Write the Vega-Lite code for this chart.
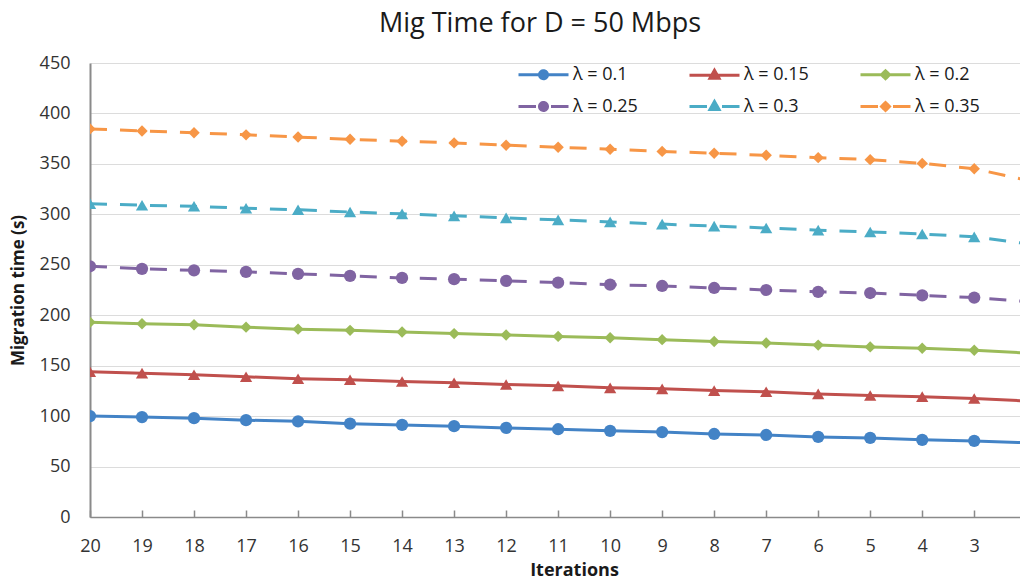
{
  "$schema": "https://vega.github.io/schema/vega-lite/v6.json",
  "width": 930,
  "height": 454,
  "autosize": {"type": "none"},
  "padding": {"left": 90, "top": 63, "right": 0, "bottom": 67},
  "background": "white",
  "title": {"text": "Mig Time for D = 50 Mbps", "font": "Open Sans", "fontSize": 27, "fontWeight": "normal", "color": "#1a1a1a", "anchor": "middle", "frame": "group", "dx": -15, "offset": 16},
  "config": {
    "view": {"stroke": null},
    "font": "Open Sans"
  },
  "data": {"values": [
    {"iter": 20, "series": "λ = 0.1", "t": 100}, {"iter": 19, "series": "λ = 0.1", "t": 99}, {"iter": 18, "series": "λ = 0.1", "t": 98}, {"iter": 17, "series": "λ = 0.1", "t": 96}, {"iter": 16, "series": "λ = 0.1", "t": 94.8}, {"iter": 15, "series": "λ = 0.1", "t": 92.5}, {"iter": 14, "series": "λ = 0.1", "t": 91.3}, {"iter": 13, "series": "λ = 0.1", "t": 90}, {"iter": 12, "series": "λ = 0.1", "t": 88.3}, {"iter": 11, "series": "λ = 0.1", "t": 87}, {"iter": 10, "series": "λ = 0.1", "t": 85.4}, {"iter": 9, "series": "λ = 0.1", "t": 84.2}, {"iter": 8, "series": "λ = 0.1", "t": 82.3}, {"iter": 7, "series": "λ = 0.1", "t": 81.3}, {"iter": 6, "series": "λ = 0.1", "t": 79.4}, {"iter": 5, "series": "λ = 0.1", "t": 78.4}, {"iter": 4, "series": "λ = 0.1", "t": 76.5}, {"iter": 3, "series": "λ = 0.1", "t": 75.4}, {"iter": 2, "series": "λ = 0.1", "t": 73.5},
    {"iter": 20, "series": "λ = 0.15", "t": 144}, {"iter": 19, "series": "λ = 0.15", "t": 142.6}, {"iter": 18, "series": "λ = 0.15", "t": 141}, {"iter": 17, "series": "λ = 0.15", "t": 139}, {"iter": 16, "series": "λ = 0.15", "t": 137}, {"iter": 15, "series": "λ = 0.15", "t": 136}, {"iter": 14, "series": "λ = 0.15", "t": 134.3}, {"iter": 13, "series": "λ = 0.15", "t": 133}, {"iter": 12, "series": "λ = 0.15", "t": 131.3}, {"iter": 11, "series": "λ = 0.15", "t": 130}, {"iter": 10, "series": "λ = 0.15", "t": 128}, {"iter": 9, "series": "λ = 0.15", "t": 127}, {"iter": 8, "series": "λ = 0.15", "t": 125.3}, {"iter": 7, "series": "λ = 0.15", "t": 124.2}, {"iter": 6, "series": "λ = 0.15", "t": 122}, {"iter": 5, "series": "λ = 0.15", "t": 120.4}, {"iter": 4, "series": "λ = 0.15", "t": 119.3}, {"iter": 3, "series": "λ = 0.15", "t": 117.4}, {"iter": 2, "series": "λ = 0.15", "t": 115},
    {"iter": 20, "series": "λ = 0.2", "t": 193}, {"iter": 19, "series": "λ = 0.2", "t": 191.5}, {"iter": 18, "series": "λ = 0.2", "t": 190.5}, {"iter": 17, "series": "λ = 0.2", "t": 188.2}, {"iter": 16, "series": "λ = 0.2", "t": 186.2}, {"iter": 15, "series": "λ = 0.2", "t": 185}, {"iter": 14, "series": "λ = 0.2", "t": 183.3}, {"iter": 13, "series": "λ = 0.2", "t": 181.8}, {"iter": 12, "series": "λ = 0.2", "t": 180.4}, {"iter": 11, "series": "λ = 0.2", "t": 179}, {"iter": 10, "series": "λ = 0.2", "t": 177.7}, {"iter": 9, "series": "λ = 0.2", "t": 175.8}, {"iter": 8, "series": "λ = 0.2", "t": 174}, {"iter": 7, "series": "λ = 0.2", "t": 172.5}, {"iter": 6, "series": "λ = 0.2", "t": 170.4}, {"iter": 5, "series": "λ = 0.2", "t": 168.6}, {"iter": 4, "series": "λ = 0.2", "t": 167.2}, {"iter": 3, "series": "λ = 0.2", "t": 165.3}, {"iter": 2, "series": "λ = 0.2", "t": 162.5},
    {"iter": 20, "series": "λ = 0.25", "t": 248.5}, {"iter": 19, "series": "λ = 0.25", "t": 246}, {"iter": 18, "series": "λ = 0.25", "t": 244.5}, {"iter": 17, "series": "λ = 0.25", "t": 243}, {"iter": 16, "series": "λ = 0.25", "t": 241}, {"iter": 15, "series": "λ = 0.25", "t": 239}, {"iter": 14, "series": "λ = 0.25", "t": 237}, {"iter": 13, "series": "λ = 0.25", "t": 235.7}, {"iter": 12, "series": "λ = 0.25", "t": 234}, {"iter": 11, "series": "λ = 0.25", "t": 232.3}, {"iter": 10, "series": "λ = 0.25", "t": 230.3}, {"iter": 9, "series": "λ = 0.25", "t": 229}, {"iter": 8, "series": "λ = 0.25", "t": 227}, {"iter": 7, "series": "λ = 0.25", "t": 225}, {"iter": 6, "series": "λ = 0.25", "t": 223.2}, {"iter": 5, "series": "λ = 0.25", "t": 222}, {"iter": 4, "series": "λ = 0.25", "t": 219.7}, {"iter": 3, "series": "λ = 0.25", "t": 217.5}, {"iter": 2, "series": "λ = 0.25", "t": 213.5},
    {"iter": 20, "series": "λ = 0.3", "t": 310.6}, {"iter": 19, "series": "λ = 0.3", "t": 309}, {"iter": 18, "series": "λ = 0.3", "t": 308}, {"iter": 17, "series": "λ = 0.3", "t": 306}, {"iter": 16, "series": "λ = 0.3", "t": 304.5}, {"iter": 15, "series": "λ = 0.3", "t": 302.3}, {"iter": 14, "series": "λ = 0.3", "t": 300.5}, {"iter": 13, "series": "λ = 0.3", "t": 298.5}, {"iter": 12, "series": "λ = 0.3", "t": 296.5}, {"iter": 11, "series": "λ = 0.3", "t": 294.5}, {"iter": 10, "series": "λ = 0.3", "t": 292.5}, {"iter": 9, "series": "λ = 0.3", "t": 290.3}, {"iter": 8, "series": "λ = 0.3", "t": 288.3}, {"iter": 7, "series": "λ = 0.3", "t": 286.5}, {"iter": 6, "series": "λ = 0.3", "t": 284.3}, {"iter": 5, "series": "λ = 0.3", "t": 282.5}, {"iter": 4, "series": "λ = 0.3", "t": 280.5}, {"iter": 3, "series": "λ = 0.3", "t": 277.7}, {"iter": 2, "series": "λ = 0.3", "t": 271},
    {"iter": 20, "series": "λ = 0.35", "t": 384.7}, {"iter": 19, "series": "λ = 0.35", "t": 382.6}, {"iter": 18, "series": "λ = 0.35", "t": 380.8}, {"iter": 17, "series": "λ = 0.35", "t": 378.8}, {"iter": 16, "series": "λ = 0.35", "t": 376.6}, {"iter": 15, "series": "λ = 0.35", "t": 374.4}, {"iter": 14, "series": "λ = 0.35", "t": 372.5}, {"iter": 13, "series": "λ = 0.35", "t": 370.8}, {"iter": 12, "series": "λ = 0.35", "t": 368.5}, {"iter": 11, "series": "λ = 0.35", "t": 366.5}, {"iter": 10, "series": "λ = 0.35", "t": 364.5}, {"iter": 9, "series": "λ = 0.35", "t": 362.4}, {"iter": 8, "series": "λ = 0.35", "t": 360.6}, {"iter": 7, "series": "λ = 0.35", "t": 358.5}, {"iter": 6, "series": "λ = 0.35", "t": 356.2}, {"iter": 5, "series": "λ = 0.35", "t": 354.2}, {"iter": 4, "series": "λ = 0.35", "t": 350.5}, {"iter": 3, "series": "λ = 0.35", "t": 345.2}, {"iter": 2, "series": "λ = 0.35", "t": 334}
  ]},
  "encoding": {
    "x": {
      "field": "iter", "type": "quantitative",
      "scale": {"domain": [20, 2.12], "nice": false, "zero": false},
      "axis": {
        "title": "Iterations", "titleFont": "Open Sans", "titleFontSize": 18, "titleFontWeight": "bold", "titleColor": "#1a1a1a",
        "titleX": 484, "titleY": 53, "titleBaseline": "middle", "titleAlign": "center",
        "values": [20,19,18,17,16,15,14,13,12,11,10,9,8,7,6,5,4,3],
        "format": "d", "labelFont": "Open Sans", "labelFontSize": 18, "labelColor": "#333", "labelPadding": 27,
        "labelFlush": false, "labelOverlap": false,
        "grid": false, "domainColor": "#8a8a8a", "domainWidth": 1.5,
        "ticks": true, "tickSize": -7, "tickColor": "#8a8a8a", "tickWidth": 1.5
      }
    },
    "y": {
      "field": "t", "type": "quantitative",
      "scale": {"domain": [0, 450], "nice": false},
      "axis": {
        "title": "Migration time (s)", "titleFont": "Open Sans", "titleFontSize": 17, "titleFontWeight": "bold", "titleColor": "#1a1a1a",
        "titleX": -72, "titleY": 227, "titleAngle": -90, "titleBaseline": "middle", "titleAlign": "center",
        "values": [0,50,100,150,200,250,300,350,400,450],
        "labelFont": "Open Sans", "labelFontSize": 18, "labelColor": "#333", "labelPadding": 20, "labelFlush": false,
        "ticks": false, "grid": true, "gridColor": "#dcdcdc", "gridWidth": 1,
        "domainColor": "#8a8a8a", "domainWidth": 2
      }
    },
    "color": {
      "field": "series", "type": "nominal",
      "scale": {
        "domain": ["λ = 0.1", "λ = 0.15", "λ = 0.2", "λ = 0.25", "λ = 0.3", "λ = 0.35"],
        "range": ["#4383c6", "#c0504d", "#9bbb59", "#8064a2", "#4bacc6", "#f79646"]
      },
      "legend": {
        "title": null, "orient": "none", "legendX": 427, "legendY": 0, "direction": "horizontal", "columns": 3,
        "gridAlign": "all", "columnPadding": 45, "rowPadding": 10, "padding": 0,
        "symbolSize": 400, "symbolStrokeWidth": 3, "symbolOpacity": 1, "labelOffset": 33,
        "labelFont": "Open Sans", "labelFontSize": 18, "labelColor": "#1a1a1a", "labelLimit": 200,
        "encode": {
          "symbols": {
            "update": {
              "shape": {"signal": "datum.value === 'λ = 0.1' ? 'M-1,0H4M1.9,0A0.4,0.4,0,1,1,1.1,0A0.4,0.4,0,1,1,1.9,0Z' : datum.value === 'λ = 0.25' ? 'M-1,0H0.75M2.25,0H4M1.9,0A0.4,0.4,0,1,1,1.1,0A0.4,0.4,0,1,1,1.9,0Z' : datum.value === 'λ = 0.15' ? 'M-1,0H4M1.5,-0.5L1.95,0.3L1.05,0.3Z' : datum.value === 'λ = 0.3' ? 'M-1,0H0.75M2.25,0H4M1.5,-0.5L1.95,0.3L1.05,0.3Z' : datum.value === 'λ = 0.2' ? 'M-1,0H4M1.5,-0.4L1.9,0L1.5,0.4L1.1,0Z' : 'M-1,0H0.75M2.25,0H4M1.5,-0.4L1.9,0L1.5,0.4L1.1,0Z'"},
              "fill": {"scale": "color", "field": "value"},
              "stroke": {"scale": "color", "field": "value"},
              "strokeDash": {"value": [1, 0]},
              "strokeWidth": {"value": 3},
              "opacity": {"value": 1}
            }
          }
        }
      }
    }
  },
  "layer": [
    {
      "transform": [{"filter": {"field": "series", "oneOf": ["λ = 0.1", "λ = 0.15", "λ = 0.2"]}}],
      "mark": {"type": "line", "strokeWidth": 3, "clip": true}
    },
    {
      "transform": [{"filter": {"field": "series", "oneOf": ["λ = 0.25", "λ = 0.3", "λ = 0.35"]}}],
      "mark": {"type": "line", "strokeWidth": 3, "strokeDash": [17, 13], "clip": true}
    },
    {
      "transform": [{"filter": {"field": "series", "oneOf": ["λ = 0.1", "λ = 0.25"]}}],
      "mark": {"type": "point", "shape": "circle", "filled": true, "opacity": 1, "size": 150, "clip": true}
    },
    {
      "transform": [{"filter": {"field": "series", "oneOf": ["λ = 0.15", "λ = 0.3"]}}],
      "mark": {"type": "point", "shape": "triangle-up", "filled": true, "opacity": 1, "size": 150, "clip": true}
    },
    {
      "transform": [{"filter": {"field": "series", "oneOf": ["λ = 0.2", "λ = 0.35"]}}],
      "mark": {"type": "point", "shape": "diamond", "filled": true, "opacity": 1, "size": 130, "clip": true}
    }
  ]
}
